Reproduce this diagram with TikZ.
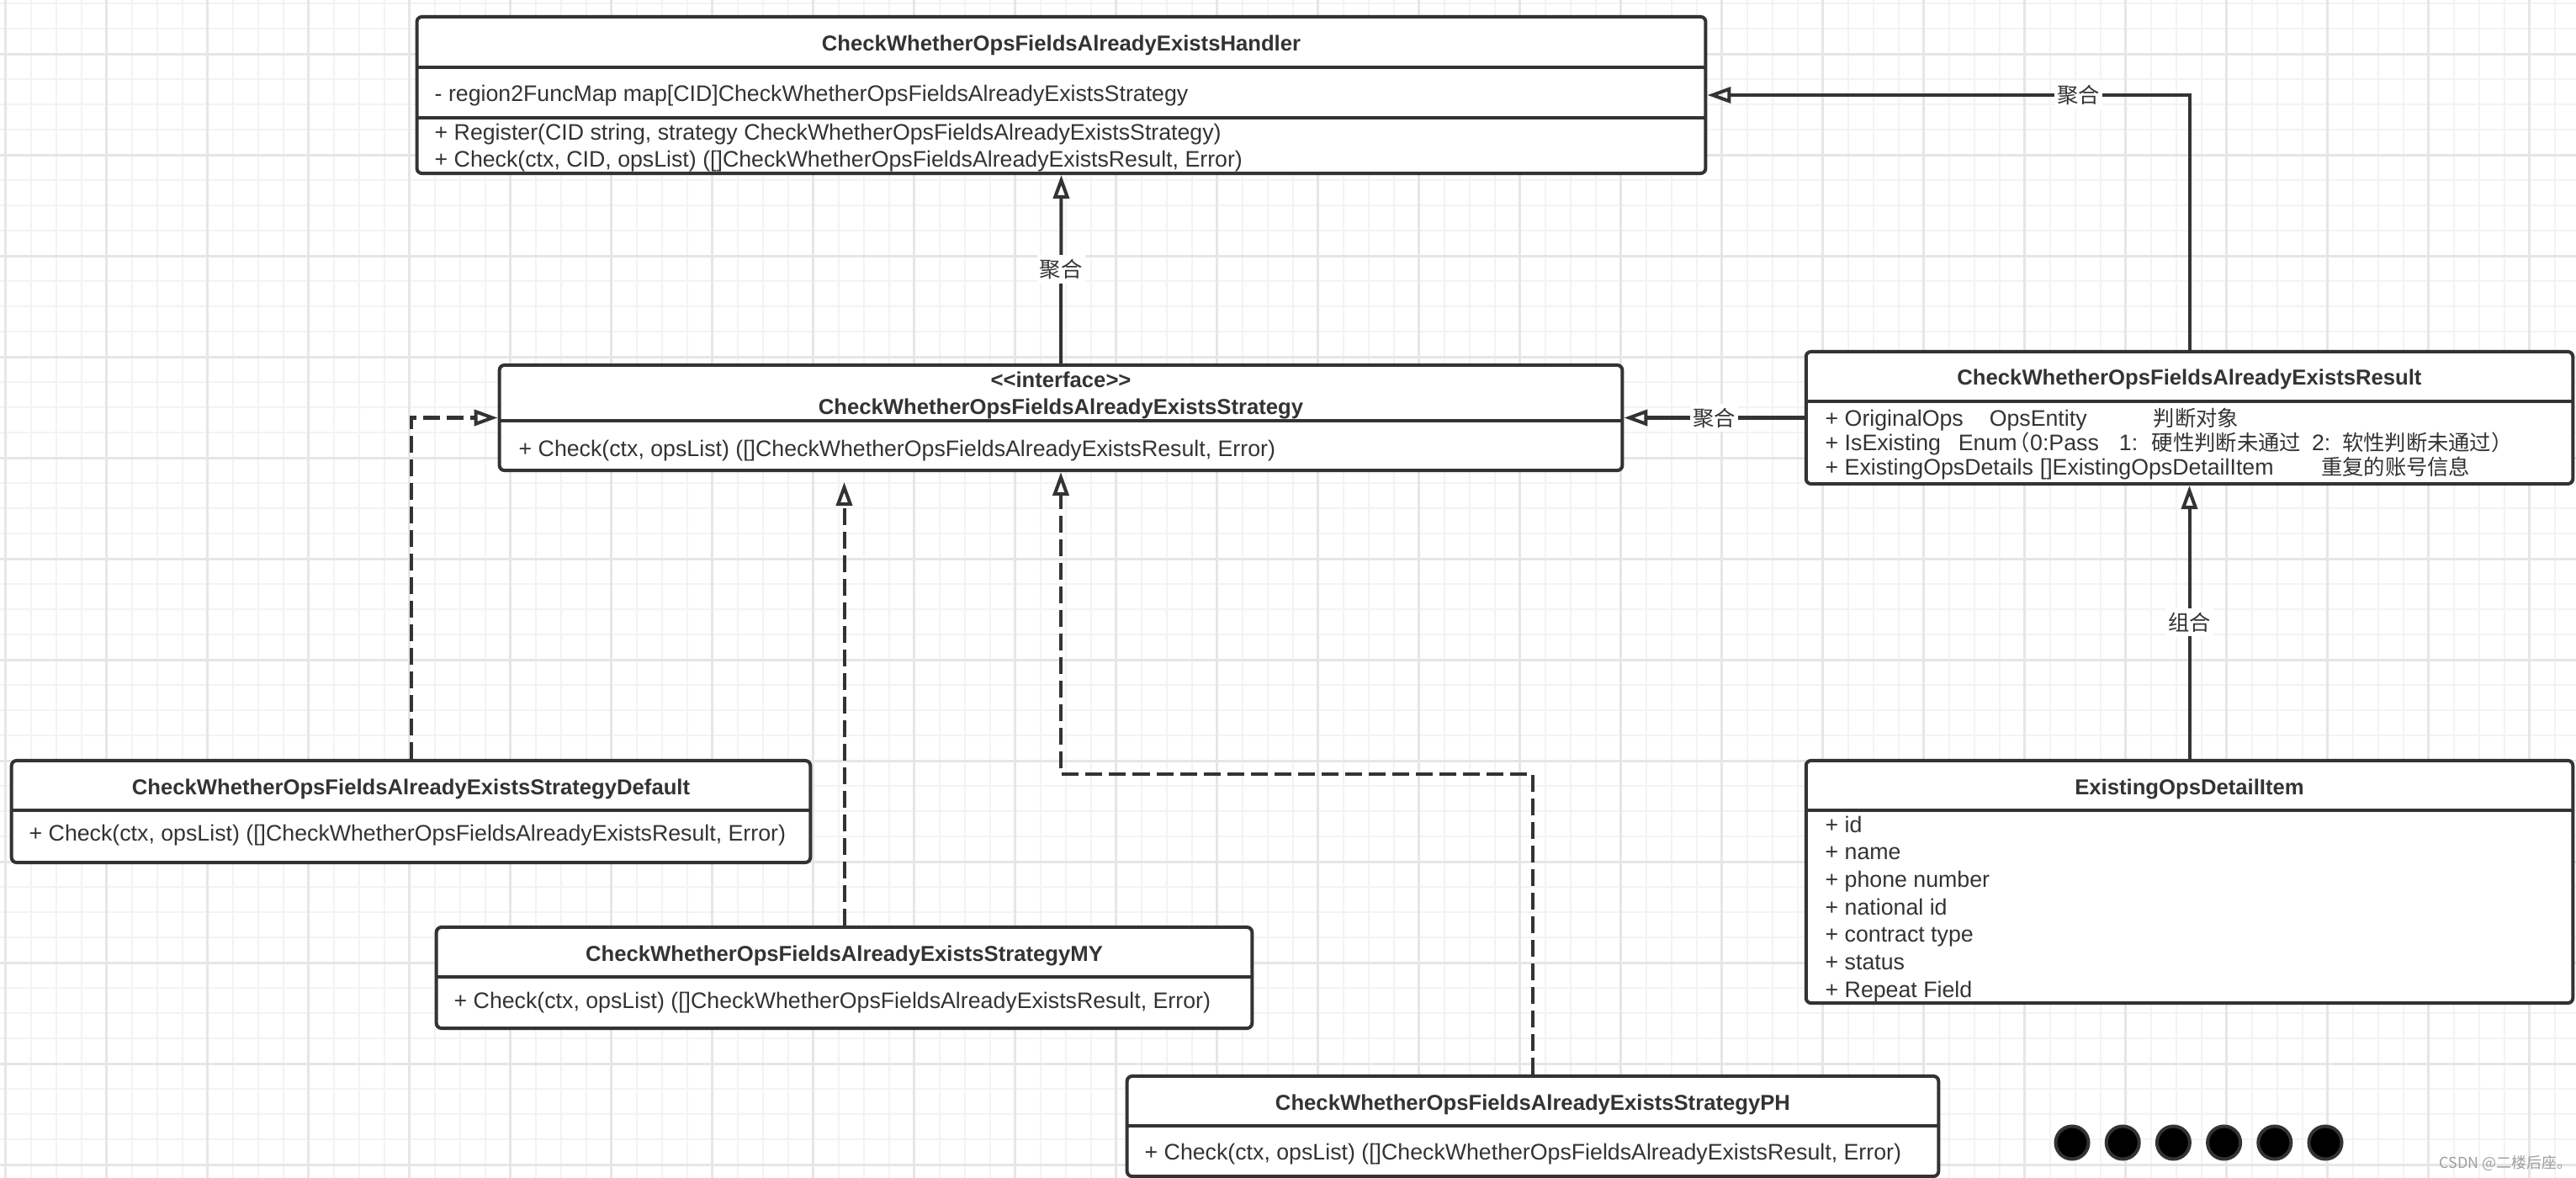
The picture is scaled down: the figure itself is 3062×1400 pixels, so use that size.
\documentclass[tikz,border=0pt]{standalone}
\usepackage{fontspec}
\setmainfont{Liberation Sans}
\newfontfamily\cjk{Noto Sans CJK SC}
\usetikzlibrary{arrows.meta}
\definecolor{lc}{HTML}{333333}
\definecolor{gminor}{HTML}{F3F3F3}
\definecolor{gmajor}{HTML}{E6E6E6}
\newcommand\rowfont{\fontsize{7.6}{9}\selectfont}
\newcommand\titlefont{\fontsize{7.3}{9}\selectfont\bfseries}
\newcommand\lblfont{\fontsize{7.2}{9}\selectfont\cjk}
\newcommand\wmfont{\fontsize{5.1}{6}\selectfont\cjk}
\newcommand\cj[1]{{\cjk\fontsize{7.2}{9}\selectfont #1}}
\tikzset{
  clsbox/.style={draw=lc, line width=0.04cm, fill=white, rounded corners=0.06cm, inner sep=0pt},
  sepline/.style={draw=lc, line width=0.04cm},
  ctitle/.style={font=\titlefont, text=lc, inner sep=0pt, anchor=base},
  crow/.style={font=\rowfont, text=lc, inner sep=0pt, anchor=base west},
  clabel/.style={font=\lblfont, text=lc, fill=white, inner xsep=0.03cm, inner ysep=0.05cm},
  assoc/.style={draw=lc, line width=0.04cm, -{Triangle[open, length=0.28cm, width=0.19cm]}},
  realiz/.style={assoc, dash pattern=on 0.2cm off 0.08cm},
  gridminor/.style={draw=gminor, line width=0.02cm},
  gridmajor/.style={draw=gmajor, line width=0.025cm},
}
\begin{document}
\begin{tikzpicture}[x=0.01cm, y=-0.01cm]
\useasboundingbox (0,0) rectangle (3062,1400);
\fill[white] (0,0) rectangle (3062,1400);
% grid
\foreach \i in {0,...,101} \draw[gridminor] ({6.7+30*\i},0) -- ({6.7+30*\i},1400);
\foreach \i in {0,...,46} \draw[gridminor] (0,{4.3+30*\i}) -- (3062,{4.3+30*\i});
\foreach \i in {0,...,25} \draw[gridmajor] ({6.7+120*\i},0) -- ({6.7+120*\i},1400);
\foreach \i in {0,...,11} \draw[gridmajor] (0,{64.3+120*\i}) -- (3062,{64.3+120*\i});

% ---------- Handler
\node[clsbox, minimum width=15.31cm, minimum height=1.86cm] (handler) at (1261.5,113) {};
\draw[sepline] (496,80) -- (2027,80);
\draw[sepline] (496,140) -- (2027,140);
\node[ctitle] (hT) at (1261.5,61) {CheckWhetherOpsFieldsAlreadyExistsHandler};
\node[crow] (hA) at (516,121) {- region2FuncMap map[CID]CheckWhetherOpsFieldsAlreadyExistsStrategy};
\node[crow] (hM1) at (516,167) {+ Register(CID string, strategy CheckWhetherOpsFieldsAlreadyExistsStrategy)};
\node[crow] (hM2) at (516,199) {+ Check(ctx, CID, opsList) ([]CheckWhetherOpsFieldsAlreadyExistsResult, Error)};

% ---------- Strategy interface
\node[clsbox, minimum width=13.34cm, minimum height=1.25cm] (strategy) at (1261,496.5) {};
\draw[sepline] (594,500) -- (1928,500);
\node[ctitle] (sS) at (1261,461) {<\kern0pt<interface>\kern0pt>};
\node[ctitle] (sT) at (1261,492) {CheckWhetherOpsFieldsAlreadyExistsStrategy};
\node[crow] (sM) at (616,542) {+ Check(ctx, opsList) ([]CheckWhetherOpsFieldsAlreadyExistsResult, Error)};

% ---------- Result
\node[clsbox, minimum width=9.11cm, minimum height=1.57cm] (result) at (2602.5,496.5) {};
\draw[sepline] (2147,477) -- (3058,477);
\node[ctitle] (rT) at (2602.5,458) {CheckWhetherOpsFieldsAlreadyExistsResult};
\node[crow] (rA1) at (2169,506) {\makebox[19.5mm][l]{+ OriginalOps}\makebox[19.5mm][l]{OpsEntity}\cj{判断对象}};
\node[crow] (rA2) at (2169,535) {\makebox[15.8mm][l]{+ IsExisting}\makebox[6mm][l]{Enum}\makebox[13.1mm][l]{\cj{（}0:Pass}\makebox[3.9mm][l]{1:}\makebox[19mm][l]{\cj{硬性判断未通过}}\makebox[3.6mm][l]{2:}\cj{软性判断未通过）}};
\node[crow] (rA3) at (2169,564) {\makebox[25.5mm][l]{+ ExistingOpsDetails}\makebox[33.4mm][l]{[]ExistingOpsDetailItem}\cj{重复的账号信息}};

% ---------- ExistingOpsDetailItem
\node[clsbox, minimum width=9.11cm, minimum height=2.88cm] (detail) at (2602.5,1048) {};
\draw[sepline] (2147,963) -- (3058,963);
\node[ctitle] (dT) at (2602.5,944) {ExistingOpsDetailItem};
\node[crow] (d1) at (2169,989) {+ id};
\node[crow] (d2) at (2169,1021.7) {+ name};
\node[crow] (d3) at (2169,1054.4) {+ phone number};
\node[crow] (d4) at (2169,1087.1) {+ national id};
\node[crow] (d5) at (2169,1119.8) {+ contract type};
\node[crow] (d6) at (2169,1152.5) {+ status};
\node[crow] (d7) at (2169,1185.2) {+ Repeat Field};

% ---------- Default
\node[clsbox, minimum width=9.49cm, minimum height=1.21cm] (default) at (488.5,964.5) {};
\draw[sepline] (14,963) -- (963,963);
\node[ctitle] (fT) at (488.5,944) {CheckWhetherOpsFieldsAlreadyExistsStrategyDefault};
\node[crow] (fM) at (34,999) {+ Check(ctx, opsList) ([]CheckWhetherOpsFieldsAlreadyExistsResult, Error)};

% ---------- MY
\node[clsbox, minimum width=9.69cm, minimum height=1.20cm] (my) at (1003.5,1162) {};
\draw[sepline] (519,1161) -- (1488,1161);
\node[ctitle] (mT) at (1003.5,1142) {CheckWhetherOpsFieldsAlreadyExistsStrategyMY};
\node[crow] (mM) at (539,1198) {+ Check(ctx, opsList) ([]CheckWhetherOpsFieldsAlreadyExistsResult, Error)};

% ---------- PH
\node[clsbox, minimum width=9.64cm, minimum height=1.19cm] (ph) at (1822,1338.5) {};
\draw[sepline] (1340,1338) -- (2304,1338);
\node[ctitle] (pT) at (1822,1319) {CheckWhetherOpsFieldsAlreadyExistsStrategyPH};
\node[crow] (pM) at (1360,1378) {+ Check(ctx, opsList) ([]CheckWhetherOpsFieldsAlreadyExistsResult, Error)};

% ---------- connectors
\draw[assoc] (strategy.north) -- node[clabel] (l1) {聚合} (handler.south);
\draw[assoc] (result.north) |- node[clabel, pos=0.615] (l2) {聚合} (handler.east);
\draw[assoc] (result.west) -- node[clabel] (l3) {聚合} (strategy.east);
\draw[assoc] (detail.north) -- node[clabel] (l4) {组合} (result.south);
\draw[realiz] (default.north) |- (strategy.west);
\coordinate (myTip) at (1003.5,573);
\draw[realiz] (my.north) -- (myTip);
\coordinate (phBend) at (1261,920);
\draw[realiz] (ph.north) |- (phBend) -- (strategy.south);

% ---------- dots
\foreach \k in {0,...,5} \draw[draw=lc, line width=0.04cm, fill=black] ({2463+60.2*\k},1358) circle (0.195cm);

% ---------- watermark
\node[anchor=base east, font=\wmfont, text=black!38, inner sep=0pt] (wm) at (3058,1388) {CSDN @二楼后座。};
\end{tikzpicture}
\end{document}
